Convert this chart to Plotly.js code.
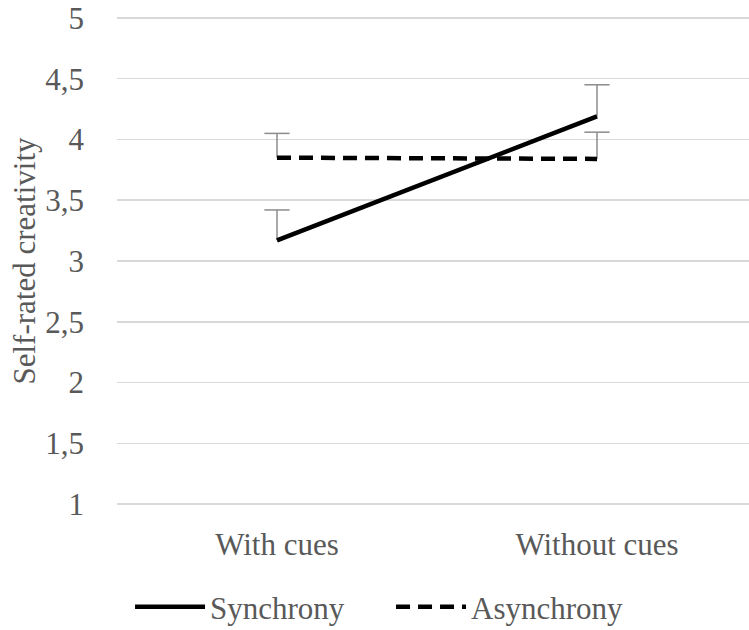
<!DOCTYPE html>
<html>
<head>
<meta charset="utf-8">
<script src="https://cdn.plot.ly/plotly-3.0.1.min.js"></script>
<style>html,body{margin:0;padding:0;background:#fff;}#chart{width:749px;height:630px;}</style>
</head>
<body>
<div id="chart"></div>
<script>
const categories = ["With cues", "Without cues"];
const synchrony = [3.17, 4.19];
const synchronyErr = [0.25, 0.26];
const asynchrony = [3.85, 3.84];
const asynchronyErr = [0.20, 0.22];
const yTicks = [1, 1.5, 2, 2.5, 3, 3.5, 4, 4.5, 5];

const FONT = "'Liberation Serif', 'Times New Roman', serif";
const GREY = "#595959";
const ERR = "#8c8c8c";

const syncTop = synchrony.map((v, i) => v + synchronyErr[i]);
const asyncTop = asynchrony.map((v, i) => v + asynchronyErr[i]);

const traces = [
  {
    x: categories, y: synchrony, name: "Synchrony", type: "scatter", mode: "lines",
    line: {color: "#000000", width: 4.5},
    error_y: {type: "data", symmetric: false, array: synchronyErr, arrayminus: [0, 0],
              color: ERR, thickness: 1.5, width: 0}
  },
  {
    x: categories, y: asynchrony, name: "Asynchrony", type: "scatter", mode: "lines",
    line: {color: "#000000", width: 4.5, dash: "14px,8px"},
    error_y: {type: "data", symmetric: false, array: asynchronyErr, arrayminus: [0, 0],
              color: ERR, thickness: 1.5, width: 0}
  },
  {
    x: categories.concat(categories), y: syncTop.concat(asyncTop), type: "scatter", mode: "markers",
    showlegend: false, hoverinfo: "skip",
    marker: {symbol: "line-ew", size: 18, color: ERR, line: {color: ERR, width: 1.5}}
  }
];

const layout = {
  width: 749, height: 630,
  margin: {l: 117, r: 0, t: 16, b: 124},
  paper_bgcolor: "#ffffff", plot_bgcolor: "#ffffff",
  separators: ",.",
  font: {family: FONT, size: 31, color: GREY},
  showlegend: true,
  legend: {orientation: "h", xref: "container", yref: "container",
           x: 0.1736, xanchor: "left", y: 0.0365, yanchor: "middle",
           font: {family: FONT, size: 31, color: GREY}, itemwidth: 70,
           entrywidth: 176, entrywidthmode: "pixels"},
  xaxis: {
    type: "category", range: [-0.5, 1.475], showgrid: false, zeroline: false,
    showline: false, ticks: "", ticklabelstandoff: 17, automargin: false,
    tickfont: {family: FONT, size: 31, color: GREY}, fixedrange: true
  },
  yaxis: {
    range: [0.984, 5.016], tickvals: yTicks, showgrid: true, gridcolor: "#d9d9d9", gridwidth: 1.5,
    zeroline: false, showline: false, ticks: "", ticklabelstandoff: 32, automargin: false,
    tickfont: {family: FONT, size: 31, color: GREY},
    title: {text: "Self-rated creativity", font: {family: FONT, size: 31, color: GREY}, standoff: 0},
    fixedrange: true
  }
};

Plotly.newPlot("chart", traces, layout, {displayModeBar: false, staticPlot: true});
</script>
</body>
</html>
